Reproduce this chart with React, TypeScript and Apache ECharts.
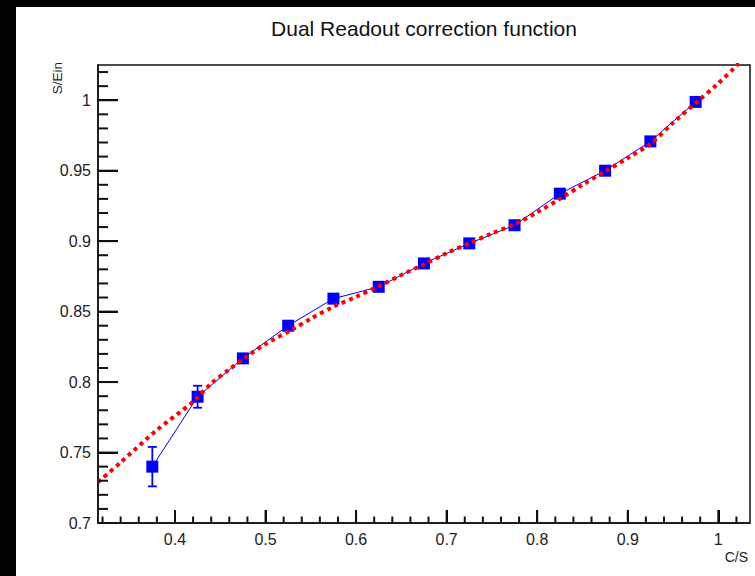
import React, { useEffect, useRef } from "react";
import * as echarts from "echarts";

// Measured points (C/S bin centres, S/Ein, error)
const xValues = [0.375, 0.425, 0.475, 0.525, 0.575, 0.625, 0.675, 0.725, 0.775, 0.825, 0.875, 0.925, 0.975];
const yValues = [0.740, 0.7896, 0.8168, 0.8400, 0.8592, 0.8676, 0.8842, 0.8984, 0.9113, 0.9337, 0.9500, 0.9708, 0.9988];
const yErrors = [0.014, 0.0078, 0.003, 0.003, 0.003, 0.003, 0.003, 0.003, 0.003, 0.003, 0.003, 0.003, 0.003];

// Fit curve
const fitX = [0.315, 0.34, 0.38, 0.42, 0.44, 0.46, 0.48, 0.50, 0.53, 0.55, 0.575, 0.60, 0.625, 0.65, 0.675, 0.70, 0.725, 0.75, 0.775, 0.80, 0.825, 0.85, 0.875, 0.90, 0.925, 0.95, 0.975, 1.00, 1.02, 1.035];
const fitY = [0.729, 0.743, 0.766, 0.786, 0.799, 0.809, 0.8185, 0.827, 0.8375, 0.845, 0.8535, 0.8605, 0.868, 0.876, 0.8835, 0.8915, 0.8985, 0.9055, 0.912, 0.9205, 0.930, 0.940, 0.9495, 0.959, 0.969, 0.984, 0.998, 1.012, 1.0245, 1.035];

// Tick labels
const xMajor = [0.4, 0.5, 0.6, 0.7, 0.8, 0.9, 1.0];
const yMajor = [0.7, 0.75, 0.8, 0.85, 0.9, 0.95, 1.0];

const TITLE = "Dual Readout correction function";
const X_NAME = "C/S";
const Y_NAME = "S/Ein";

const X_MIN = 0.315, X_MAX = 1.035, Y_MIN = 0.7, Y_MAX = 1.025;

function minorTicks(min: number, max: number, step: number, majorStep: number): number[] {
  const out: number[] = [];
  const start = Math.ceil(min / step - 1e-9);
  const end = Math.floor(max / step + 1e-9);
  for (let i = start; i <= end; i++) {
    const v = Math.round(i * step * 1000) / 1000;
    const r = v / majorStep;
    if (Math.abs(r - Math.round(r)) < 1e-6) continue;
    out.push(v);
  }
  return out;
}

const FONT = "'Liberation Sans', Arial, Helvetica, sans-serif";

export default function App() {
  const ref = useRef<HTMLDivElement>(null);
  useEffect(() => {
    if (!ref.current) return;
    const chart = echarts.init(ref.current, undefined, { renderer: "svg" });
    const xMinor = minorTicks(X_MIN, X_MAX, 0.02, 0.1);
    const yMinor = minorTicks(Y_MIN, Y_MAX, 0.01, 0.05);
    const points = xValues.map((x, i) => [x, yValues[i]]);
    const errs = xValues.map((x, i) => [x, yValues[i], yErrors[i]]);
    const fit = fitX.map((x, i) => [x, fitY[i]]);
    // tick marks: [x, y, length px, axis (0 = x, 1 = y)]
    const tickMarks = [
      ...xMajor.map((v) => [v, Y_MIN, 13, 0]),
      ...xMinor.map((v) => [v, Y_MIN, 6.5, 0]),
      ...yMajor.map((v) => [X_MIN, v, 20, 1]),
      ...yMinor.map((v) => [X_MIN, v, 10, 1]),
    ];

    const labelStyle = { color: "#222", fontSize: 16, fontFamily: FONT };

    chart.setOption({
      animation: false,
      graphic: [
        { type: "text", x: 408, y: 21, style: { text: TITLE, fontSize: 21, fontFamily: FONT, fill: "#111", align: "center", verticalAlign: "middle" } },
        { type: "text", x: 732, y: 550, style: { text: X_NAME, fontSize: 14, fontFamily: FONT, fill: "#222", align: "right", verticalAlign: "middle" } },
        { type: "text", x: 41, y: 55, rotation: Math.PI / 2, style: { text: Y_NAME, fontSize: 13.5, fontFamily: FONT, fill: "#222", align: "right", verticalAlign: "middle" } },
      ],
      grid: { left: 82, right: 5, top: 58, bottom: 53, show: true, borderColor: "#111", borderWidth: 1.5 },
      xAxis: {
        type: "value", min: X_MIN, max: X_MAX,
        axisLine: { show: true, lineStyle: { color: "#111", width: 1.5 } },
        axisTick: { show: true, inside: true, length: 13, customValues: xMajor, lineStyle: { color: "#000", width: 2 } },
        axisLabel: { show: true, customValues: xMajor, margin: 8, ...labelStyle },
        splitLine: { show: false },
      },
      yAxis: {
        type: "value", min: Y_MIN, max: Y_MAX,
        axisLine: { show: true, lineStyle: { color: "#111", width: 1.5 } },
        axisTick: { show: true, inside: true, length: 20, customValues: yMajor, lineStyle: { color: "#000", width: 2 } },
        axisLabel: { show: true, customValues: yMajor, margin: 7, ...labelStyle },
        splitLine: { show: false },
      },
      series: [
        {
          type: "custom",
          name: "ticks",
          z: 10,
          silent: true,
          renderItem: (params: any, api: any) => {
            const x = api.value(0), y = api.value(1), len = api.value(2), ax = api.value(3);
            const p = api.coord([x, y]);
            if (ax === 0) {
              return { type: "rect", shape: { x: p[0] - 1, y: p[1] - len, width: 2, height: len }, style: { fill: "#111" } };
            }
            return { type: "rect", shape: { x: p[0], y: p[1] - 1, width: len, height: 2 }, style: { fill: "#111" } };
          },
          encode: { x: 0, y: 1 },
          data: tickMarks,
        },
        {
          type: "custom",
          name: "errors",
          z: 1,
          renderItem: (params: any, api: any) => {
            const x = api.value(0), y = api.value(1), e = api.value(2);
            const top = api.coord([x, y + e]);
            const bot = api.coord([x, y - e]);
            const cw = 4.5;
            const st = { stroke: "#0000ff", lineWidth: 1.8 };
            return {
              type: "group",
              children: [
                { type: "line", shape: { x1: top[0], y1: top[1], x2: bot[0], y2: bot[1] }, style: st },
                { type: "line", shape: { x1: top[0] - cw, y1: top[1], x2: top[0] + cw, y2: top[1] }, style: st },
                { type: "line", shape: { x1: bot[0] - cw, y1: bot[1], x2: bot[0] + cw, y2: bot[1] }, style: st },
              ],
            };
          },
          encode: { x: 0, y: 1 },
          data: errs,
        },
        {
          type: "line",
          name: "data",
          z: 2,
          data: points,
          symbol: "rect",
          symbolSize: 12,
          itemStyle: { color: "#0000ff" },
          lineStyle: { color: "#0000ff", width: 1 },
        },
        {
          type: "line",
          name: "fit",
          z: 3,
          data: fit,
          smooth: 0.3,
          showSymbol: false,
          symbol: "none",
          clip: true,
          lineStyle: { color: "#ff0000", width: 4, type: [4, 4] },
        },
      ],
    });
    return () => chart.dispose();
  }, []);
  return (
    <div style={{ position: "fixed", left: 0, top: 0, width: 755, height: 576, background: "#000" }}>
      <div ref={ref} style={{ position: "absolute", left: 16, top: 7, width: 739, height: 569, background: "#fff" }} />
    </div>
  );
}
